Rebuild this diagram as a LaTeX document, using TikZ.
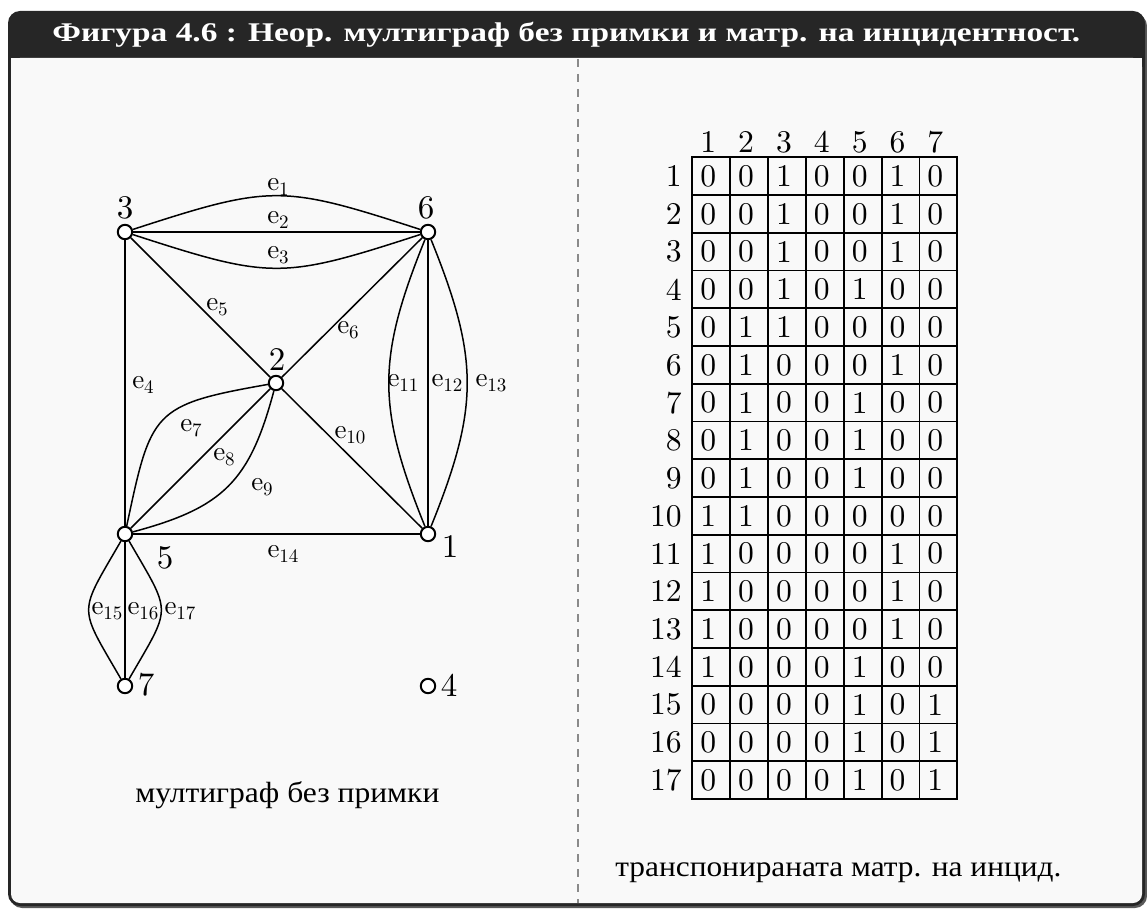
\documentclass[tikz,border=0pt]{standalone}
\usepackage{fontspec}
\usepackage{graphicx}
\newfontfamily\cyrfont{Liberation Serif}
\newfontfamily\lmten{lmroman10-regular}[Extension=.otf]
\definecolor{framecol}{HTML}{262626}
\definecolor{bodycol}{HTML}{F9F9F9}
\definecolor{dashcol}{HTML}{8A8A8A}
\newsavebox\fitbox
\newcommand\fitw[2]{\sbox\fitbox{#2}\pgfmathsetmacro\fitsx{#1/\the\wd\fitbox}\scalebox{\fitsx}[1]{\usebox\fitbox}}
\newcommand\esub[1]{e\raisebox{-2.2pt}{\fontsize{9.5}{11}\selectfont #1}}
\begin{document}
\begin{tikzpicture}[x=0.5pt,y=0.5pt,
  vtx/.style={circle,draw,line width=1pt,fill=white,minimum size=7.2pt,inner sep=0pt},
  vlab/.style={inner sep=0pt,font=\fontsize{16.5}{18}\lmten},
  elab/.style={inner sep=0pt,font=\fontsize{13.5}{15}\lmten},
  edge/.style={line width=0.75pt},
  mnum/.style={inner sep=0pt,font=\fontsize{15.8}{17}\lmten},
  mgrid/.style={line width=0.9pt,line cap=rect},
  txt/.style={anchor=base west,inner sep=0pt}]
\useasboundingbox (0,0) rectangle (1147,-909);
% frame
\fill[black!65, rounded corners=6pt] (10,-14) rectangle (1147,-908);
\fill[framecol, rounded corners=6pt] (8,-11) rectangle (1145,-906);
\fill[bodycol, rounded corners=4.5pt] (11,-58) rectangle (1142,-903);
\fill[bodycol] (11,-58) rectangle (1142,-90);
\draw[dashcol, line width=0.6pt, dash pattern=on 4pt off 3.5pt] (578,-59) -- (578,-903);
% title
\node[txt, text=white] (title) at (52,-42) {\fitw{514pt}{\fontsize{13.5}{16}\cyrfont\bfseries Фигура 4.6 : Неор. мултиграф без примки и матр. на инцидентност.}};
% vertices
\node[vtx] (v3) at (125,-232) {};
\node[vtx] (v6) at (428,-232) {};
\node[vtx] (v2) at (276,-383) {};
\node[vtx] (v5) at (125,-534) {};
\node[vtx] (v1) at (428,-534) {};
\node[vtx] (v7) at (125,-686) {};
\node[vtx] (v4) at (428,-686) {};
% vertex labels
\node[vlab] (l3) at (125,-208) {3};
\node[vlab] (l6) at (426,-208) {6};
\node[vlab] (l2) at (277,-360) {2};
\node[vlab] (l5) at (165,-558) {5};
\node[vlab] (l1) at (450,-547) {1};
\node[vlab] (l7) at (146,-685) {7};
\node[vlab] (l4) at (449,-685) {4};
% edges
\draw[edge] (v3) to[bend left=18, looseness=1.3] (v6);
\draw[edge] (v3) -- (v6);
\draw[edge] (v3) to[bend right=18, looseness=1.3] (v6);
\draw[edge] (v3) -- (v5);
\draw[edge] (v3) -- (v2);
\draw[edge] (v2) -- (v6);
\draw[edge] (v5) to[out=78, in=190, looseness=1.5] (v2);
\draw[edge] (v5) -- (v2);
\draw[edge] (v5) to[out=15, in=255, looseness=1.2] (v2);
\draw[edge] (v2) -- (v1);
\draw[edge] (v6) to[bend right=22, looseness=1.15] (v1);
\draw[edge] (v6) -- (v1);
\draw[edge] (v6) to[bend left=22, looseness=1.15] (v1);
\draw[edge] (v5) -- (v1);
\draw[edge] (v5) to[bend right=30, looseness=1.6] (v7);
\draw[edge] (v5) -- (v7);
\draw[edge] (v5) to[bend left=30, looseness=1.6] (v7);
% edge labels
\node[elab] (e1) at (278,-187) {\esub{1}};
\node[elab] (e2) at (278,-220) {\esub{2}};
\node[elab] (e3) at (278,-255) {\esub{3}};
\node[elab] (e4) at (143,-385) {\esub{4}};
\node[elab] (e5) at (217,-307) {\esub{5}};
\node[elab] (e6) at (348,-330) {\esub{6}};
\node[elab] (e7) at (191,-428) {\esub{7}};
\node[elab] (e8) at (224,-457) {\esub{8}};
\node[elab] (e9) at (262,-487) {\esub{9}};
\node[elab] (e10) at (350,-435) {\esub{10}};
\node[elab] (e11) at (403,-383) {\esub{11}};
\node[elab] (e12) at (447,-383) {\esub{12}};
\node[elab] (e13) at (491,-383) {\esub{13}};
\node[elab] (e14) at (283,-554) {\esub{14}};
\node[elab] (e15) at (107,-611) {\esub{15}};
\node[elab] (e16) at (143,-611) {\esub{16}};
\node[elab] (e17) at (180,-611) {\esub{17}};
% matrix
\foreach \k in {1,...,7}
  \node[mnum] (h\k) at ({692.3+(\k-0.5)*37.86-3},-142) {\k};
\foreach \rr/\va/\vb/\vc/\vd/\ve/\vf/\vg in {
  1/0/0/1/0/0/1/0, 2/0/0/1/0/0/1/0, 3/0/0/1/0/0/1/0, 4/0/0/1/0/1/0/0,
  5/0/1/1/0/0/0/0, 6/0/1/0/0/0/1/0, 7/0/1/0/0/1/0/0, 8/0/1/0/0/1/0/0,
  9/0/1/0/0/1/0/0, 10/1/1/0/0/0/0/0, 11/1/0/0/0/0/1/0, 12/1/0/0/0/0/1/0,
  13/1/0/0/0/0/1/0, 14/1/0/0/0/1/0/0, 15/0/0/0/0/1/0/1, 16/0/0/0/0/1/0/1,
  17/0/0/0/0/1/0/1} {
  \node[mnum, anchor=east] (r\rr) at (682,{-(157.3+(\rr-0.5)*37.75)}) {\rr};
  \foreach \vv [count=\kk] in {\va,\vb,\vc,\vd,\ve,\vf,\vg}
    \node[mnum] (m\rr-\kk) at ({692.3+(\kk-0.5)*37.86-3},{-(157.3+(\rr-0.5)*37.75)}) {\vv};
}
\foreach \k in {0,...,7}
  \draw[mgrid] ({692.3+\k*37.86},-157.3) -- ({692.3+\k*37.86},-799);
\foreach \j in {0,...,17}
  \draw[mgrid] (692.3,{-(157.3+\j*37.75)}) -- (957.3,{-(157.3+\j*37.75)});
% captions
\node[txt] (cap1) at (135,-802) {\fitw{152pt}{\fontsize{14.6}{17}\cyrfont мултиграф без примки}};
\node[txt] (cap2) at (615,-876) {\fitw{223pt}{\fontsize{14.6}{17}\cyrfont транспонираната матр. на инцид.}};
\end{tikzpicture}
\end{document}
